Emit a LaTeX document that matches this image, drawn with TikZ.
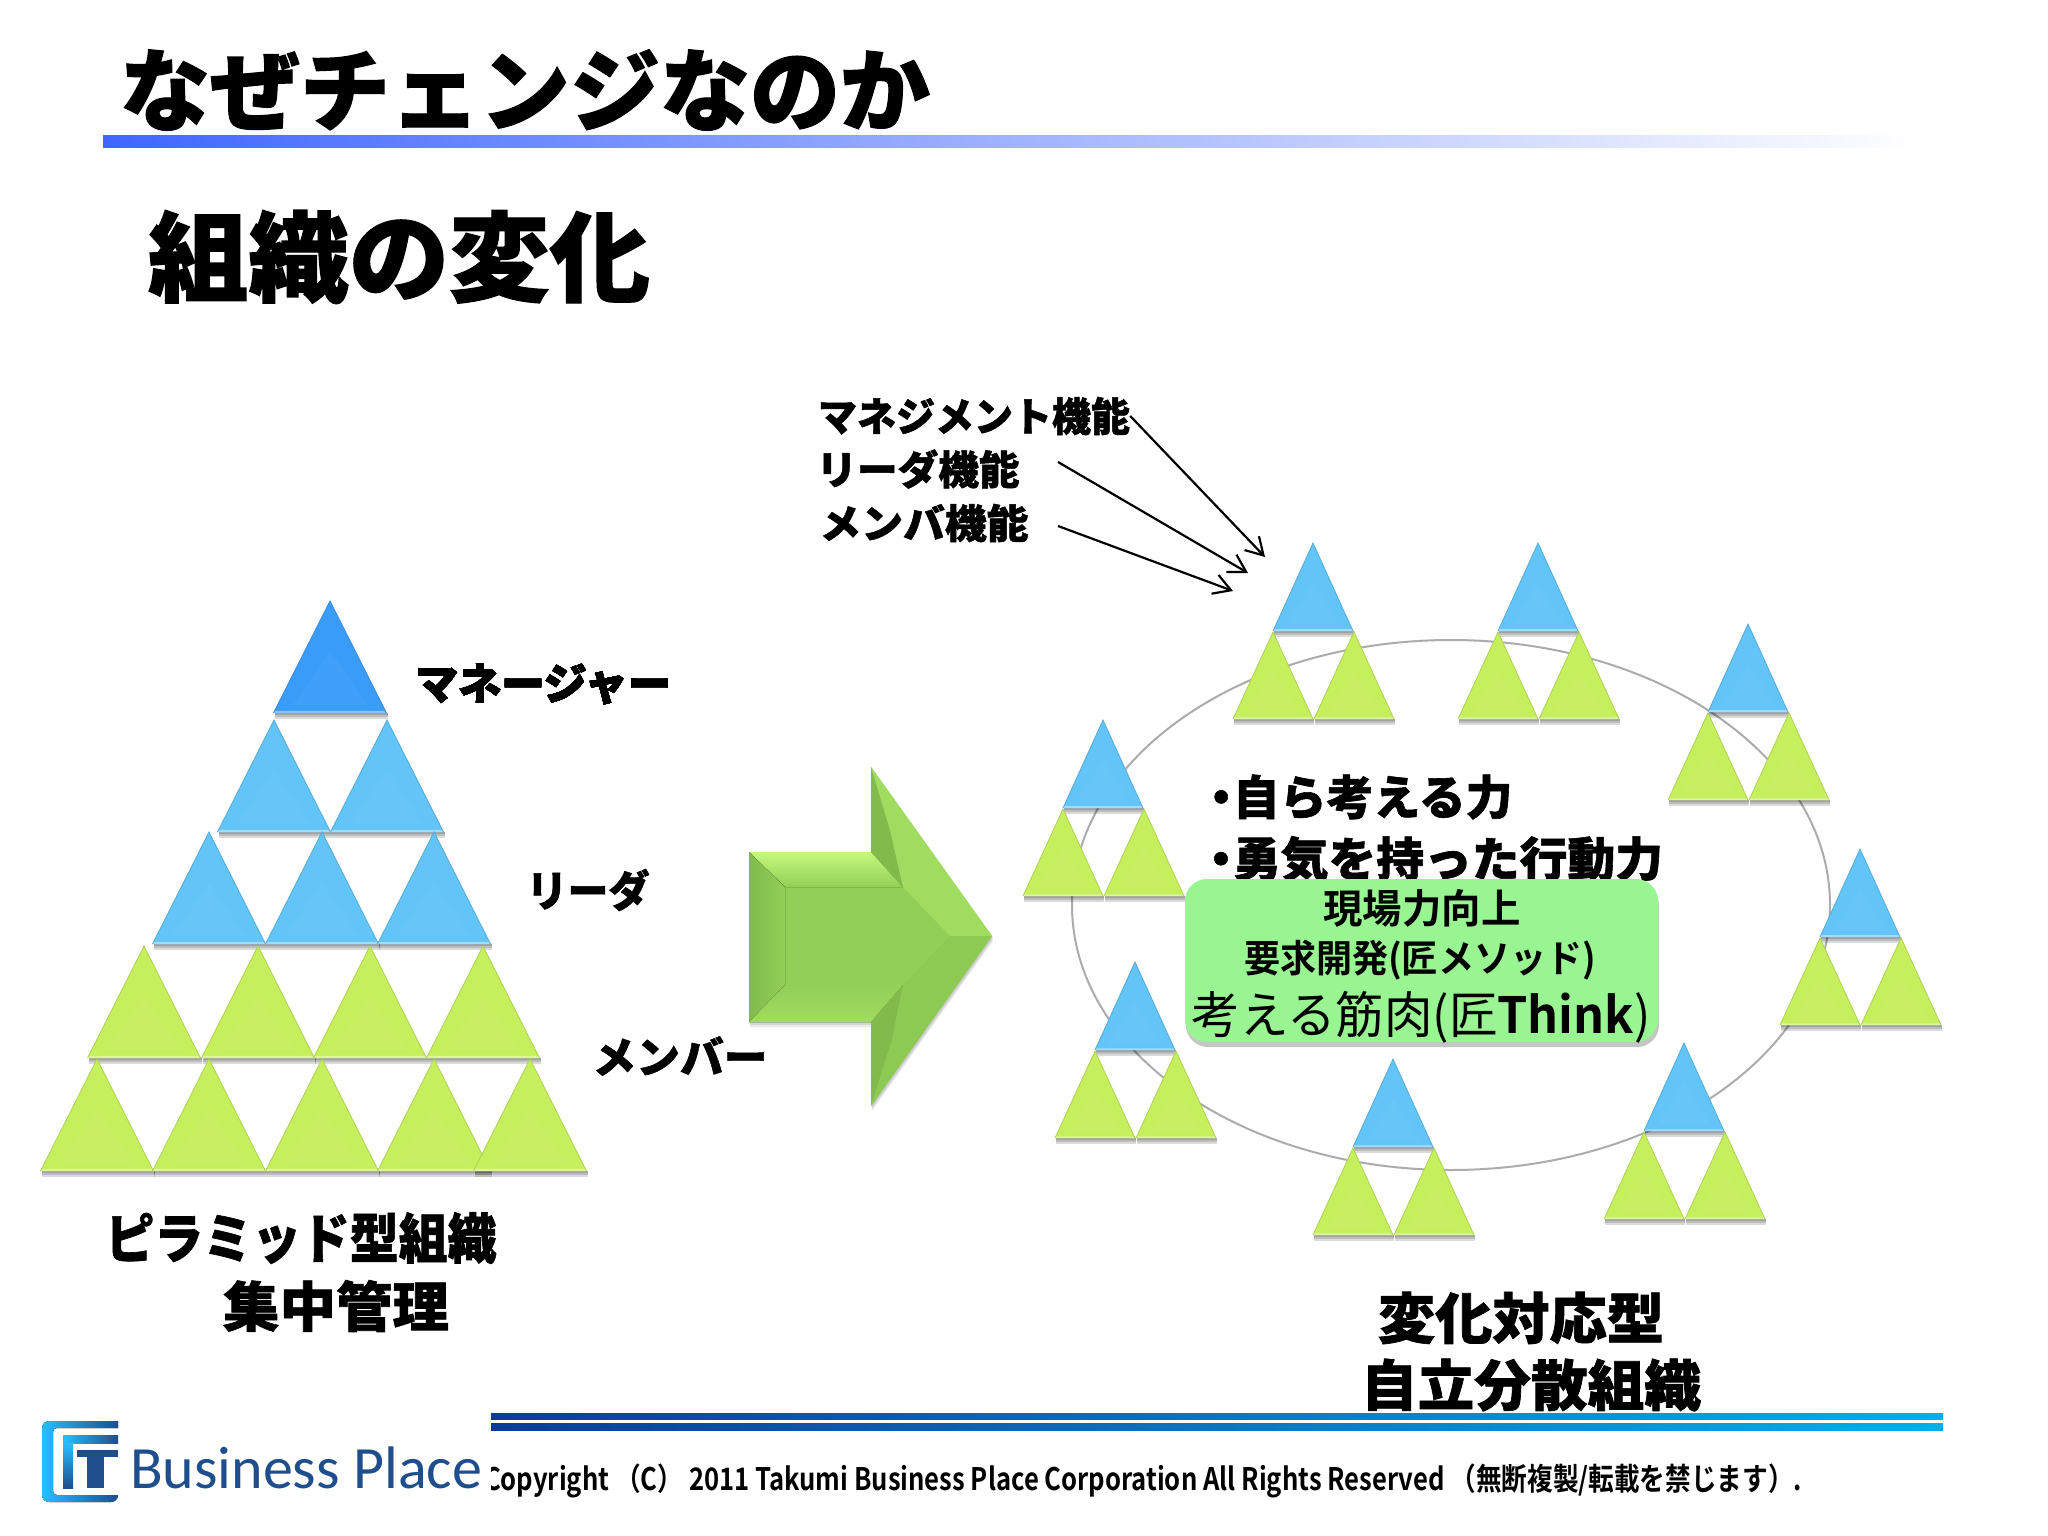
\documentclass[tikz,border=0pt]{standalone}
\usepackage{fontspec}
\usetikzlibrary{arrows.meta,shadows}
\newfontfamily\jpheavy[FakeBold=1.2]{Noto Sans CJK JP Black}
\newfontfamily\jpbold{Noto Sans CJK JP Bold}
\newfontfamily\jpreg{Noto Sans CJK JP}
\setmainfont{Carlito}
\definecolor{topblue}{HTML}{3A9CF9}
\definecolor{triblue}{HTML}{62C4F7}
\definecolor{trigreen}{HTML}{C6EF5E}
\definecolor{arrowgreen}{HTML}{92CF57}
\definecolor{highbevel}{HTML}{C6F87E}
\definecolor{lowbevel}{HTML}{80BB4C}
\definecolor{edgebevel}{HTML}{A0DC60}
\definecolor{midbevel}{HTML}{8DCA54}
\definecolor{boxgreen}{HTML}{99F492}
\definecolor{logoblue}{HTML}{1F4E8C}
\definecolor{barleft}{HTML}{0B3C9C}
\definecolor{barright}{HTML}{00AEEF}
\pgfdeclareverticalshading{boxshade}{100bp}{color(0bp)=(boxgreen);color(88bp)=(boxgreen);color(100bp)=(boxgreen!45!white)}
\newcommand{\fit}[2]{\resizebox{#1pt}{\height}{#2}}
\newcommand{\tri}[5]{%
  \begin{scope}[shift={(#1,#2)}]
    \foreach \s in {2,4,6}
      \fill[black,opacity=.14] (-#3+1,#4) rectangle (#3+1,#4+\s);
    \fill[#5] (0,0) -- (#3,#4) -- (-#3,#4) -- cycle;
    \fill[#5!97!white] (0,.45*#4) -- (.66*#3,.93*#4) -- (-.66*#3,.93*#4) -- cycle;
    \fill[#5!60!white] (-#3,#4) -- (#3,#4) -- (.96*#3,.98*#4) -- (-.96*#3,.98*#4) -- cycle;
    \draw[#5!88!black,line width=.8pt] (-#3,#4) -- (0,0) -- (#3,#4);
  \end{scope}}
\newcommand{\cluster}[2]{%
  \tri{#1}{#2}{40}{88}{triblue}
  \tri{#1-40}{#2+89}{40}{87}{trigreen}
  \tri{#1+41}{#2+89}{40}{87}{trigreen}}
\tikzset{
  heavylbl/.style={font=\jpheavy\fontsize{#1}{#1}\selectfont,inner sep=0pt},
  boldlbl/.style={font=\jpbold\fontsize{#1}{#1}\selectfont,inner sep=0pt},
  fnarrow/.style={-{Straight Barb[length=17pt,width=20pt]},line width=2.2pt},
  boxstyle/.style={rounded corners=22pt,shading=boxshade,minimum width=473pt,minimum height=163pt,inner sep=0pt}
}
\begin{document}
\begin{tikzpicture}[x=1pt,y=-1pt]
  \useasboundingbox (0,0) rectangle (2048,1536);
  \fill[white] (0,0) rectangle (2048,1536);
  \fill[left color=blue!80!cyan!75!white,right color=white] (103,136) rectangle (1920,148);
  \node[heavylbl=90] (title) at (525,90) {\fit{810}{なぜチェンジなのか}};
  \node[heavylbl=98] (subtitle) at (399,257) {\fit{502}{組織の変化}};
  \foreach \x/\y/\c in {330/601/topblue,274/720/triblue,387/720/triblue,
      209/832/triblue,322/832/triblue,434/832/triblue,
      144/946/trigreen,258/946/trigreen,370/946/trigreen,483/946/trigreen,
      97/1059/trigreen,209/1059/trigreen,322/1059/trigreen,434/1059/trigreen,530/1059/trigreen}
    \tri{\x}{\y}{56.5}{112}{\c}
  \node[heavylbl=43] (manager) at (543,684) {\fit{256}{マネージャー}};
  \node[heavylbl=43] (leader) at (588,890) {\fit{123}{リーダ}};
  \node[heavylbl=43] (member) at (680,1056) {\fit{175}{メンバー}};
  \node[heavylbl=54] (pyramid) at (301,1238) {\fit{391}{ピラミッド型組織}};
  \node[heavylbl=54] (central) at (336,1306) {\fit{226}{集中管理}};
  \foreach \s in {1,3,5}
    \fill[black,opacity=.08,shift={(1,\s)}] (749,852) -- (871,852) -- (871,767) -- (992,936) -- (871,1106) -- (871,1022) -- (749,1022) -- cycle;
  \fill[arrowgreen] (749,852) -- (871,852) -- (871,767) -- (992,936) -- (871,1106) -- (871,1022) -- (749,1022) -- cycle;
  \fill[top color=highbevel,bottom color=arrowgreen] (749,852) -- (871,852) -- (903,887) -- (785,887) -- cycle;
  \fill[left color=lowbevel,right color=arrowgreen] (749,852) -- (785,887) -- (785,987) -- (749,1022) -- cycle;
  \fill[top color=arrowgreen,bottom color=edgebevel] (749,1022) -- (785,985) -- (903,985) -- (871,1022) -- cycle;
  \fill[lowbevel] (871,767) -- (871,852) -- (903,887) -- (890,830) -- cycle;
  \fill[edgebevel] (871,767) -- (992,936) -- (950,936) -- (903,887) -- (890,830) -- cycle;
  \fill[lowbevel] (871,1106) -- (871,1022) -- (903,985) -- (892,1040) -- cycle;
  \fill[midbevel] (871,1106) -- (992,936) -- (950,936) -- (903,985) -- (892,1040) -- cycle;
  \draw[gray!65,line width=2pt] (1451,905) ellipse (379 and 265);
  \cluster{1313}{543}
  \cluster{1538}{543}
  \cluster{1748}{624}
  \cluster{1103}{720}
  \cluster{1860}{849}
  \cluster{1135}{962}
  \cluster{1684}{1043}
  \cluster{1393}{1059}
  \node[heavylbl=40] (mgmtfn) at (974,416) {\fit{312}{マネジメント機能}};
  \node[heavylbl=40] (leadfn) at (918,469) {\fit{203}{リーダ機能}};
  \node[heavylbl=40] (membfn) at (924,523) {\fit{209}{メンバ機能}};
  \coordinate (leadtail) at (1058,462);
  \coordinate (membtail) at (1058,526);
  \coordinate (mgmttip) at (1265,557);
  \coordinate (leadtip) at (1248,573);
  \coordinate (membtip) at (1233,591);
  \draw[fnarrow] (mgmtfn.east) -- (mgmttip);
  \draw[fnarrow] (leadtail) -- (leadtip);
  \draw[fnarrow] (membtail) -- (membtip);
  \node[heavylbl=47] (think) at (1361,797) {\fit{303}{\kern-.25em ・\kern-.25em 自ら考える力}};
  \node[heavylbl=47] (courage) at (1436,859) {\fit{454}{\kern-.25em ・\kern-.25em 勇気を持った行動力}};
  \node[boxstyle,drop shadow={opacity=.45,shadow xshift=1pt,shadow yshift=-5pt}] (skillbox) at (1421.5,960.5) {};
  \node[boldlbl=40] (skill) at (1422,908) {\fit{197}{現場力向上}};
  \node[boldlbl=38] (reqdev) at (1420,960) {\fit{352}{要求開発(匠メソッド)}};
  \node[font=\jpreg\fontsize{50}{50}\selectfont,inner sep=0pt] (muscle) at (1421,1017) {\fit{459}{考える筋肉(匠{\jpbold Think})}};
  \node[heavylbl=55] (adaptive) at (1521,1318) {\fit{286}{変化対応型}};
  \node[heavylbl=55] (autonomous) at (1531,1385) {\fit{340}{自立分散組織}};
  \fill[left color=barleft,right color=barright] (491,1413) rectangle (1943,1419);
  \fill[left color=barleft,right color=barright] (491,1423) rectangle (1943,1430);
  \node[font=\jpbold\fontsize{31}{31}\selectfont,inner sep=0pt] (copyright) at (1143,1481) {\fit{1318}{Copyright （C） 2011 Takumi Business Place Corporation All Rights Reserved （無断複製/転載を禁じます）.}};
  \fill[white] (470,1455) rectangle (491,1500);
  \fill[left color=cyan!70!blue!85!white,right color=logoblue] (118,1421) [rounded corners=7pt] -| (42,1502) -- (118,1502) [sharp corners] -- (118,1495) -- (60,1495) [rounded corners=4pt] -| (53,1428) [sharp corners] -- (118,1428) -- cycle;
  \fill[left color=cyan!70!blue!85!white,right color=logoblue] (63,1435) rectangle (118,1443);
  \fill[top color=cyan!70!blue!85!white,bottom color=logoblue] (63,1443) rectangle (73,1488);
  \fill[logoblue] (77,1450) rectangle (118,1457);
  \fill[logoblue] (87,1457) rectangle (104,1488);
  \node[anchor=base west,inner sep=0pt,text=logoblue,font=\fontsize{60}{60}\selectfont] (logotext) at (130,1488) {\fit{352}{Business Place}};
\end{tikzpicture}
\end{document}
